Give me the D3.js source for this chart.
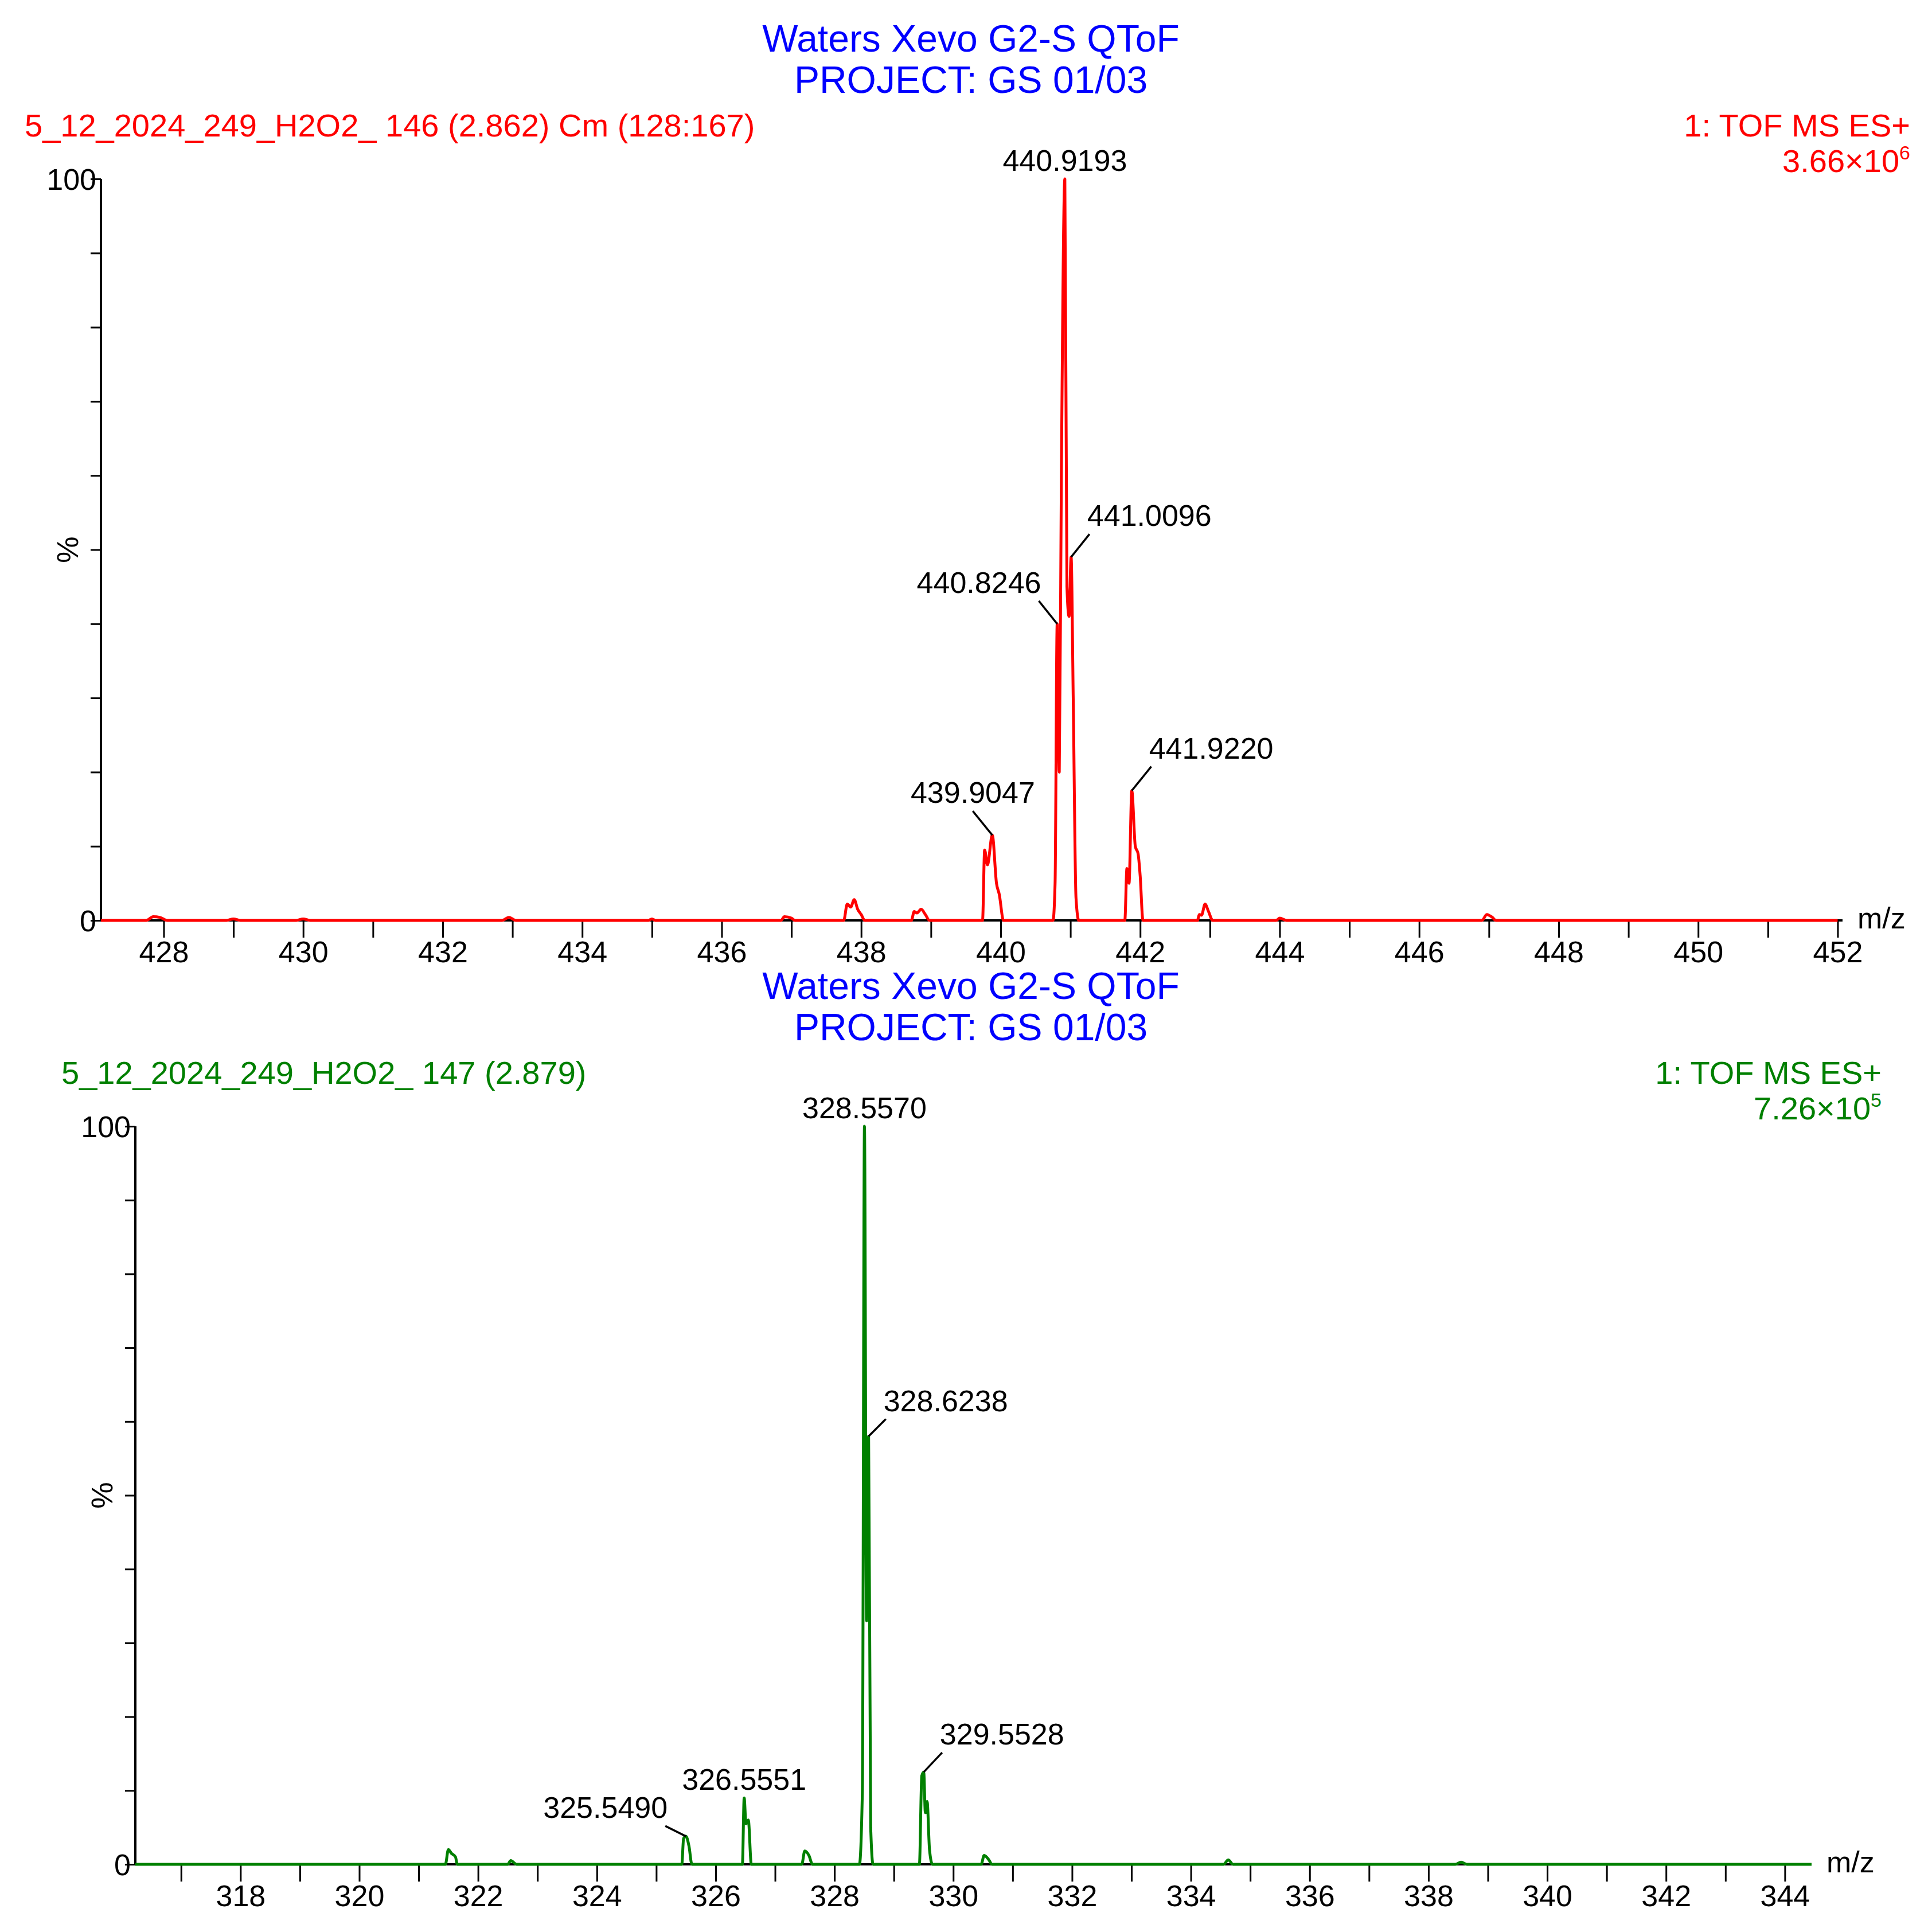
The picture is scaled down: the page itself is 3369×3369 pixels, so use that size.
<!DOCTYPE html>
<html>
<head>
<meta charset="utf-8">
<script src="https://cdn.jsdelivr.net/npm/d3@7"></script>
<style>
  body { margin: 0; background: #fff; }
  text { font-family: "Liberation Sans", Arial, sans-serif; }
</style>
</head>
<body>
<svg id="chart" width="3369" height="3369"></svg>
<script>
// ---- data ----
var instrumentTitle = "Waters Xevo G2-S QToF";
var projectTitle = "PROJECT: GS 01/03";

var topSample = "5_12_2024_249_H2O2_ 146 (2.862) Cm (128:167)";
var topMode = "1: TOF MS ES+";
var topIntensity = ["3.66×10", "6"];
var topMz = [427.1,427.75,427.85,427.95,428.05,428.9,429.0,429.1,429.9,430.0,430.1,432.85,432.95,433.05,434.95,435.0,435.05,
  436.85,436.9,437.0,437.05,437.75,437.8,437.85,437.9,437.95,438.0,438.05,438.72,438.76,438.8,438.86,438.92,438.98,
  439.74,439.77,439.81,439.88,439.94,439.98,440.04,440.75,440.78,440.81,440.84,440.87,440.92,440.95,440.98,441.01,441.04,441.08,441.12,
  441.78,441.81,441.84,441.88,441.93,441.97,442.0,442.04,442.82,442.85,442.88,442.93,442.98,443.04,443.95,444.0,444.1,
  446.9,446.97,447.05,447.1,452.0];
var topPct = [0,0,0.5,0.4,0,0,0.2,0,0,0.2,0,0,0.4,0,0,0.2,0,
  0,0.5,0.3,0,0,2.2,1.8,2.8,1.5,0.8,0,0,1.2,1.0,1.5,0.8,0,
  0,9.5,7.5,11.5,5,3.5,0,0,5,40,20,60,100,45,41,49,30,3,0,
  0,7,5,17.5,10,9,6,0,0,0.8,0.7,2.2,1.2,0,0,0.3,0,
  0,0.8,0.4,0,0];
var topLabels = [
  { mz: 440.92, pct: 100, text: "440.9193", dx: 0, dy: 0, anchor: "middle" },
  { mz: 441.01, pct: 49, text: "441.0096", dx: 32, dy: -40, anchor: "start" },
  { mz: 440.81, pct: 40, text: "440.8246", dx: -32, dy: -40, anchor: "end" },
  { mz: 439.88, pct: 11.5, text: "439.9047", dx: -34, dy: -42, anchor: "middle" },
  { mz: 441.88, pct: 17.5, text: "441.9220", dx: 34, dy: -42, anchor: "start" }
];

var botSample = "5_12_2024_249_H2O2_ 147 (2.879)";
var botMode = "1: TOF MS ES+";
var botIntensity = ["7.26×10", "5"];
var botMz = [316.23,321.45,321.5,321.55,321.62,321.65,322.5,322.55,322.65,325.43,325.46,325.5,325.55,325.6,
  326.45,326.48,326.51,326.55,326.6,327.45,327.5,327.57,327.63,328.42,328.47,328.505,328.54,328.575,328.61,328.65,
  329.43,329.47,329.503,329.53,329.56,329.6,329.65,330.47,330.52,330.6,330.65,334.55,334.63,334.71,338.45,338.55,338.65,344.45];
var botPct = [0,0,2,1.5,1,0,0,0.5,0,0,3.5,3.8,2.5,0,
  0,9,5.5,6,0,0,1.8,1.2,0,0,10,100,33,58,5,0,
  0,12,12.5,7,8.5,2,0,0,1.2,0.6,0,0,0.6,0,0,0.3,0,0];
var botLabels = [
  { mz: 328.505, pct: 100, text: "328.5570", dx: 0, dy: 0, anchor: "middle" },
  { mz: 328.575, pct: 58, text: "328.6238", dx: 30, dy: -30, anchor: "start" },
  { mz: 329.503, pct: 12.5, text: "329.5528", dx: 32, dy: -34, anchor: "start" },
  { mz: 326.48, pct: 9, text: "326.5551", dx: 0, dy: 0, anchor: "middle" },
  { mz: 325.5, pct: 3.8, text: "325.5490", dx: -36, dy: -18, anchor: "end" }
];

var svg = d3.select("#chart");

function drawPanel(p) {
  var g = svg.append("g");
  var x = d3.scaleLinear().domain(p.domain).range([p.left, p.right]);
  var y = d3.scaleLinear().domain([0, 100]).range([p.bottom, p.top]);

  g.append("text").attr("x", 1693).attr("y", p.titleY).attr("text-anchor", "middle")
    .attr("font-size", 66).attr("fill", "#0000ff").text(instrumentTitle);
  g.append("text").attr("x", 1693).attr("y", p.titleY + 72).attr("text-anchor", "middle")
    .attr("font-size", 66).attr("fill", "#0000ff").text(projectTitle);

  g.append("text").attr("x", p.sampleX).attr("y", p.headY).attr("font-size", 56)
    .attr("fill", p.color).text(p.sample);
  g.append("text").attr("x", p.headRight).attr("y", p.headY).attr("text-anchor", "end")
    .attr("font-size", 56).attr("fill", p.color).text(p.mode);
  var it = g.append("text").attr("x", p.headRight).attr("y", p.headY + 62).attr("text-anchor", "end")
    .attr("font-size", 56).attr("fill", p.color);
  it.append("tspan").text(p.intensity[0]);
  it.append("tspan").attr("font-size", 34).attr("dy", -22).text(p.intensity[1]);

  // y axis
  var yAxis = d3.axisLeft(y).tickValues(d3.range(0, 101, 10)).tickSize(18)
    .tickFormat(function(d) { return (d === 0 || d === 100) ? d : ""; });
  var ya = g.append("g").attr("transform", "translate(" + p.left + ",0)").call(yAxis);
  ya.select(".domain").attr("stroke-width", 4).attr("d", "M0," + p.top + "V" + p.bottom);
  ya.selectAll(".tick line").attr("stroke-width", 3);
  ya.selectAll(".tick text").attr("font-size", 52).attr("font-family", "Liberation Sans, Arial").attr("x", -8).attr("dy", "0.35em");
  g.append("text").attr("transform", "translate(" + (p.left - 40) + "," + y(50) + ") rotate(-90)")
    .attr("text-anchor", "middle").attr("font-size", 52).text("%");

  // x axis
  var xa = g.append("g").attr("transform", "translate(0," + p.bottom + ")")
    .call(d3.axisBottom(x).tickValues(d3.range(Math.ceil(p.domain[0]), p.domain[1] + 0.01, 1)).tickSize(30)
      .tickFormat(function(d) { return d % 2 === 0 ? d : ""; }));
  xa.select(".domain").attr("stroke-width", 4).attr("d", "M" + p.left + ",0H" + p.right);
  xa.selectAll(".tick line").attr("stroke-width", 3);
  xa.selectAll(".tick text").attr("font-size", 52).attr("font-family", "Liberation Sans, Arial").attr("y", 36);
  g.append("text").attr("x", p.right + 26).attr("y", p.bottom + 14).attr("font-size", 52).text("m/z");

  // spectrum
  var pts = p.mz.map(function(m, i) { return [m, p.pct[i]]; });
  g.append("path").datum(pts).attr("fill", "none").attr("stroke", p.color).attr("stroke-width", 5)
    .attr("stroke-linejoin", "round")
    .attr("d", d3.line().curve(d3.curveMonotoneX).x(function(d) { return x(d[0]); }).y(function(d) { return y(d[1]); }));

  // peak labels
  p.labels.forEach(function(l) {
    var px = x(l.mz), py = y(l.pct);
    var tx = px + l.dx, ty = py + l.dy;
    if (l.dx !== 0 || l.dy !== 0) {
      g.append("line").attr("x1", px).attr("y1", py).attr("x2", tx).attr("y2", ty)
        .attr("stroke", "#000").attr("stroke-width", 3.5);
    }
    g.append("text").attr("x", tx + (l.anchor === "start" ? -4 : l.anchor === "end" ? 4 : 0))
      .attr("y", ty - 14).attr("text-anchor", l.anchor).attr("font-size", 52).text(l.text);
  });
}

drawPanel({ domain: [427.1, 452.07], left: 176, right: 3213, top: 312, bottom: 1605,
  titleY: 90, headY: 238, sampleX: 43, headRight: 3331, color: "#ff0000",
  sample: topSample, mode: topMode, intensity: topIntensity, mz: topMz, pct: topPct, labels: topLabels });
drawPanel({ domain: [316.23, 344.45], left: 236, right: 3159, top: 1964, bottom: 3251,
  titleY: 1742, headY: 1890, sampleX: 107, headRight: 3281, color: "#008000",
  sample: botSample, mode: botMode, intensity: botIntensity, mz: botMz, pct: botPct, labels: botLabels });
</script>
</body>
</html>
